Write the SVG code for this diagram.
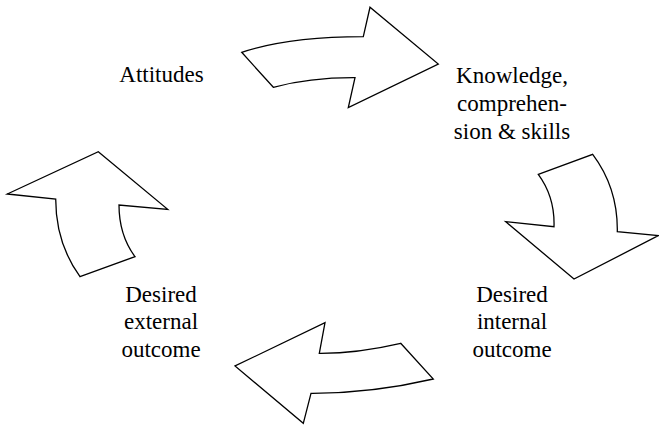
<svg xmlns="http://www.w3.org/2000/svg" width="659" height="425" viewBox="0 0 659 425">
  <style>
    .arrow { fill: #ffffff; stroke: #000000; stroke-width: 1.3; stroke-linejoin: miter; }
    .label { font-family: "Liberation Serif", "Times New Roman", serif; font-size: 23px; fill: #000000; text-anchor: middle; }
  </style>
  <rect width="659" height="425" fill="#ffffff"/>

  <!-- curved block arrows forming the cycle -->
  <g id="connectors">
    <path id="arrow-top" class="arrow" d="M241.7,52.3 Q288,37 363.3,36.7 L370,7.3 L438.3,64 L348.3,107.7 L355,77.7 Q310,77.5 273.3,87.3 Z"/>
    <path id="arrow-right" class="arrow" d="M538.3,174.3 L592.7,154.3 Q618,188 617.3,231.7 L658.3,235.7 L574,279 L505.7,221.7 L554,226.7 Q555,197 538.3,174.3 Z"/>
    <path id="arrow-bottom" class="arrow" d="M400.7,343.3 L433.3,379 Q371,393.5 311,393.3 L303.3,423.3 L235,366 L325,322.7 L319.3,353.3 Q357,353.5 400.7,343.3 Z"/>
    <path id="arrow-left" class="arrow" d="M80,276.7 L135,256.7 Q119,235 119,205 L167.7,209.3 L98.3,151.7 L7.3,194 L55.7,199 Q55.7,243 80,276.7 Z"/>
  </g>

  <g id="attitudes">
    <text class="label" x="161.5" y="81.5">Attitudes</text>
  </g>
  <g id="knowledge">
    <text class="label" x="512" y="83.3">Knowledge,</text>
    <text class="label" x="512" y="111">comprehen-</text>
    <text class="label" x="512" y="139">sion &amp; skills</text>
  </g>
  <g id="internal-outcome">
    <text class="label" x="512" y="301.7">Desired</text>
    <text class="label" x="512" y="329.3">internal</text>
    <text class="label" x="512" y="357.3">outcome</text>
  </g>
  <g id="external-outcome">
    <text class="label" x="161" y="301.7">Desired</text>
    <text class="label" x="161" y="329.3">external</text>
    <text class="label" x="161" y="357.3">outcome</text>
  </g>
</svg>
